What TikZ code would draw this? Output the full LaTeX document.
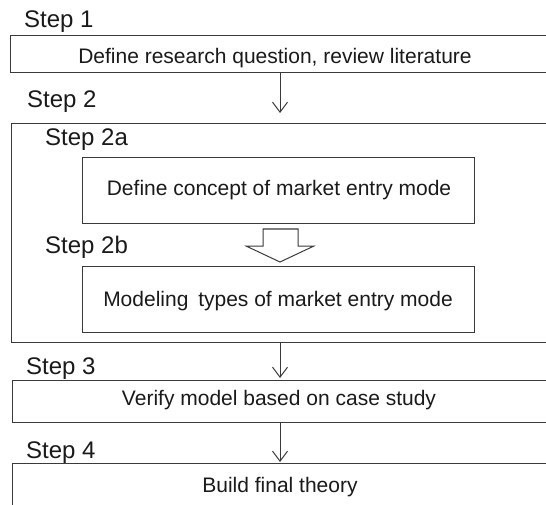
\documentclass[tikz,border=0pt]{standalone}
\usepackage{fontspec}
\setmainfont{Liberation Sans}
\usetikzlibrary{arrows.meta}
\definecolor{linec}{HTML}{3A3A3A}
\definecolor{textc}{HTML}{1A1A1A}
\tikzset{
  box/.style={draw=linec, line width=1pt, inner sep=0pt, anchor=north west, fill=none},
  steplabel/.style={anchor=base west, inner sep=0pt, text=textc, font=\fontsize{24}{28}\selectfont},
  boxtext/.style={anchor=base, inner sep=0pt, text=textc, font=\fontsize{21}{25}\selectfont},
  arr/.style={draw=linec, line width=1pt, -{Straight Barb[length=10pt,width=15pt,line width=1pt]}},
  bigarrow/.style={draw=linec, line width=1pt, fill=white, line join=miter}
}
\begin{document}
\begin{tikzpicture}[x=1pt,y=-1pt]
\useasboundingbox (0,0) rectangle (546,505);
\clip (0,0) rectangle (546,505);
\fill[white] (0,0) rectangle (546,505);

% boxes
\node[box, minimum width=560pt, minimum height=37pt] (b1) at (10,35) {};
\node[box, minimum width=560pt, minimum height=219pt] (b2) at (11,123) {};
\node[box, minimum width=392pt, minimum height=66pt] (b2a) at (82,157) {};
\node[box, minimum width=392pt, minimum height=66pt] (b2b) at (82,266) {};
\node[box, minimum width=560pt, minimum height=42pt] (b3) at (12,380) {};
\node[box, minimum width=560pt, minimum height=60pt] (b4) at (12,463) {};

% step labels
\node[steplabel] (s1) at (24,28) {Step 1};
\node[steplabel] (s2) at (27,108) {Step 2};
\node[steplabel] (s2a) at (45,146) {Step 2a};
\node[steplabel] (s2b) at (45,253) {Step 2b};
\node[steplabel] (s3) at (26,374) {Step 3};
\node[steplabel] (s4) at (26,458) {Step 4};

% box texts
\node[boxtext] (t1) at (275,64) {Define research question, review literature};
\node[boxtext] (t2a) at (279,196) {Define concept of market entry mode};
\node[boxtext] (t2b) at (278,306) {Modeling\hspace{4pt} types of market entry mode};
\node[boxtext] (t3) at (279,405) {Verify model based on case study};
\node[boxtext] (t4) at (280,492) {Build final theory};

% connectors
\coordinate (cx) at (280,0);
\coordinate (tip1) at (280,113);
\coordinate (tip3) at (280,378);
\coordinate (tip4) at (280,462);
\draw[arr] (b1.south -| cx) -- (tip1);
\draw[arr] (b2.south -| cx) -- (tip3);
\draw[arr] (b3.south -| cx) -- (tip4);

% hollow block arrow between 2a and 2b
\draw[bigarrow] (263,229) -- (298,229) -- (298,246) -- (314,246) -- (280,262)
  -- (246,246) -- (263,246) -- cycle;
\end{tikzpicture}
\end{document}
